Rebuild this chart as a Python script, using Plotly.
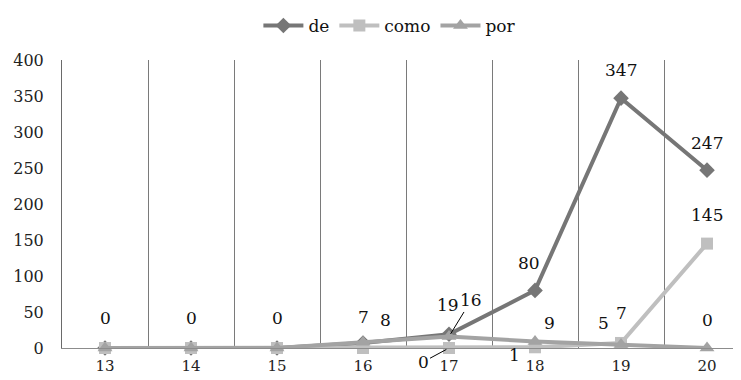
import plotly.graph_objects as go

categories = ["13", "14", "15", "16", "17", "18", "19", "20"]
de = [0, 0, 0, 7, 19, 80, 347, 247]
como = [0, 0, 0, 0, 0, 1, 7, 145]
por = [0, 0, 0, 8, 16, 9, 5, 0]
y_ticks = [0, 50, 100, 150, 200, 250, 300, 350, 400]

FONT = "DejaVu Serif, Liberation Serif, serif"
x_pos = list(range(len(categories)))

series = [
    ("de", de, "#767676", "diamond", 12),
    ("como", como, "#bfbfbf", "square", 12),
    ("por", por, "#a3a3a3", "triangle-up", 13),
]

# label placement (pixel offsets of text centre from point; image coords, +y down)
# None => label not shown; third element => leader line
label_offsets = {
    "de": [(0, -30), (0, -30), (0, -30), (0, -26), (-1, -29), (-6, -27), (0, -28), (0, -27)],
    "como": [None, None, None, None, (-26, 14, True), (-21, 8), (0, -30), (0, -29)],
    "por": [None, None, None, (22, -22), (22, -36, True), (14, -19), (-18, -21), (0, -28)],
}

fig = go.Figure()
for name, vals, color, sym, msize in series:
    fig.add_trace(go.Scatter(
        x=x_pos, y=vals, name=name, mode="lines+markers",
        line=dict(color=color, width=4),
        marker=dict(symbol=sym, size=msize, color=color),
        cliponaxis=False,
    ))

annotations = []
for name, vals, color, sym, msize in series:
    for i, v in enumerate(vals):
        off = label_offsets[name][i]
        if off is None:
            continue
        dx, dy = off[0], off[1]
        leader = len(off) > 2
        if leader:
            annotations.append(dict(
                x=i, y=v, xref="x", yref="y", text=str(v), showarrow=True,
                ax=dx, ay=dy, arrowhead=0, arrowwidth=1, arrowcolor="#000000",
                standoff=3, font=dict(family=FONT, size=17, color="#111111"),
            ))
        else:
            annotations.append(dict(
                x=i, y=v, xref="x", yref="y", text=str(v), showarrow=False,
                xshift=dx, yshift=-dy, font=dict(family=FONT, size=17, color="#111111"),
            ))

# page has an 8px body margin: figure sits at (8, 8) in the 741x380 window
fig.update_layout(
    width=733, height=372,
    margin=dict(l=54, r=0, t=52, b=32),
    paper_bgcolor="white", plot_bgcolor="white",
    font=dict(family=FONT, size=16, color="#222222"),
    showlegend=True,
    legend=dict(orientation="h", xref="container", yref="container",
                x=0.521, xanchor="center", y=1.0, yanchor="top",
                font=dict(family=FONT, size=17, color="#111111"),
                itemwidth=40, tracegroupgap=0, bgcolor="rgba(0,0,0,0)"),
    annotations=annotations,
    xaxis=dict(
        range=[-0.5, 7.395], tickvals=x_pos, ticktext=categories,
        showgrid=False, zeroline=False, showline=True, linecolor="#8c8c8c", linewidth=1,
        ticks="", ticklabelstandoff=4,
        tickfont=dict(family=FONT, size=15, color="#222222"),
        minor=dict(tickvals=[i + 0.5 for i in range(len(categories) - 1)],
                   showgrid=True, gridcolor="#7a7a7a", gridwidth=1),
    ),
    yaxis=dict(
        range=[0, 400], tickvals=y_ticks, showgrid=False, zeroline=False,
        showline=True, linecolor="#6a6a6a", linewidth=1, ticks="",
        ticklabelstandoff=14,
        tickfont=dict(family=FONT, size=16, color="#222222"),
    ),
)

fig.write_html("out.html")
